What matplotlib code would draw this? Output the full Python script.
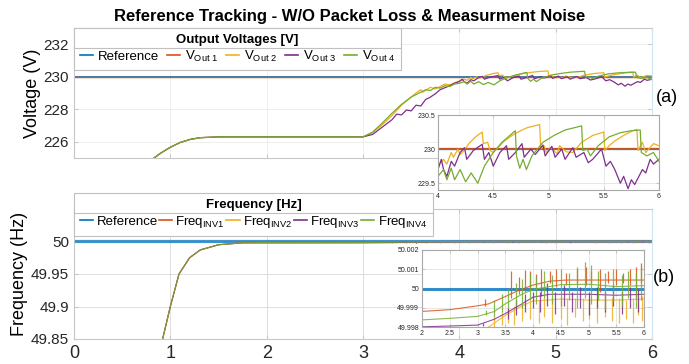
import numpy as np
import matplotlib
matplotlib.use('Agg')
import matplotlib.pyplot as plt
from matplotlib.lines import Line2D

plt.rcParams['font.family'] = ['Liberation Sans', 'DejaVu Sans']
plt.rcParams['mathtext.fontset'] = 'custom'
plt.rcParams['mathtext.rm'] = 'Liberation Sans'
plt.rcParams['mathtext.it'] = 'Liberation Sans:italic'
plt.rcParams['axes.linewidth'] = 0.8

# MATLAB default colours
c_ref, c1, c2, c3, c4 = '#0072BD', '#D95319', '#EDB120', '#7E2F8E', '#77AC30'

# ---------------- voltage data (V) ----------------
t_v_ref = [0, 6]
v_ref = [230, 230]
t_v1 = [0, 6]
v_1 = [230, 230]

# start-up common to inverters 2-4 (curves overlap)
t_v_start = [0.70, 0.83, 0.90, 1.00, 1.10, 1.21, 1.31, 1.50, 2.00, 2.50]
v_start = [223.9, 225.0, 225.3, 225.66, 225.95, 226.15, 226.25, 226.3, 226.3, 226.3]

t_v2 = [3.0, 3.1, 3.2, 3.3, 3.4, 3.5, 3.55, 3.6, 3.62, 3.7, 3.75, 3.85, 3.9, 4.0,
        4.05, 4.08, 4.12, 4.14, 4.18, 4.2, 4.22, 4.28, 4.34, 4.40, 4.41, 4.45, 4.47,
        4.5, 4.6, 4.7, 4.8, 4.92, 4.93, 4.96, 4.98, 5.02, 5.08, 5.1, 5.16, 5.22,
        5.3, 5.4, 5.5, 5.51, 5.55, 5.6, 5.68, 5.75, 5.8, 5.81, 5.85, 5.88, 5.95, 6.0]
v_2 = [226.3, 226.55, 227.05, 227.6, 228.25, 228.75, 229.0, 229.2, 229.05, 229.35, 229.25,
       229.55, 229.5, 229.75,
       229.85, 229.78, 229.95, 229.88, 230.0, 229.92, 229.95, 230.08, 230.18, 230.25,
       230.08, 230.1, 229.98, 229.95, 230.12, 230.23, 230.31, 230.36, 230.0, 230.05,
       229.95, 230.02, 229.93, 230.05, 229.96, 229.95, 230.1, 230.2, 230.25, 229.98,
       230.05, 230.12, 230.2, 230.26, 230.29, 229.98, 230.1, 229.95, 230.08, 230.05]

t_v3 = [3.0, 3.1, 3.2, 3.3, 3.35, 3.4, 3.45, 3.5, 3.55, 3.6, 3.65, 3.7, 3.75, 3.8,
        3.9, 3.95, 4.0, 4.03, 4.05, 4.08, 4.12, 4.15, 4.20, 4.24, 4.26, 4.32, 4.40,
        4.42, 4.46, 4.50, 4.56, 4.62, 4.64, 4.70, 4.76, 4.78, 4.84, 4.88, 4.95, 4.97,
        5.03, 5.06, 5.12, 5.15, 5.22, 5.25, 5.32, 5.36, 5.40, 5.48, 5.52, 5.56, 5.60,
        5.65, 5.68, 5.72, 5.75, 5.78, 5.85, 5.88, 5.92, 5.95, 6.0]
v_3 = [226.3, 226.45, 226.9, 227.35, 227.7, 227.65, 227.95, 227.9, 228.25, 228.2,
       228.6, 228.75, 228.95, 229.2, 229.45, 229.6, 229.7, 229.85, 229.7, 229.6,
       229.82, 229.75, 229.95, 230.02, 229.85, 229.98, 230.07, 229.85, 229.95, 229.75,
       229.95, 230.05, 229.85, 229.95, 230.08, 229.88, 230.0, 229.92, 230.06, 229.9,
       230.04, 229.88, 230.0, 229.85, 230.02, 229.88, 229.95, 229.8, 229.85, 230.0,
       229.75, 229.82, 229.7, 229.5, 229.6, 229.42, 229.55, 229.48, 229.7, 229.65,
       229.85, 229.78, 229.85]

t_v4 = [3.0, 3.1, 3.2, 3.3, 3.4, 3.5, 3.6, 3.65, 3.7, 3.75, 3.8, 3.85, 3.9, 3.95,
        4.0, 4.05, 4.08, 4.12, 4.15, 4.2, 4.25, 4.3, 4.36, 4.42, 4.5, 4.58, 4.65,
        4.70, 4.71, 4.74, 4.77, 4.80, 4.85, 4.95, 5.05, 5.15, 5.30, 5.31, 5.35, 5.38,
        5.45, 5.55, 5.65, 5.75, 5.83, 5.84, 5.89, 5.95, 6.0]
v_4 = [226.3, 226.6, 227.15, 227.75, 228.3, 228.75, 229.05, 229.2, 229.15, 229.35,
       229.3, 229.45, 229.4, 229.55, 229.6, 229.7, 229.55, 229.72, 229.55, 229.7,
       229.52, 229.65, 229.5, 229.75, 229.95, 230.1, 230.2, 230.27, 229.9, 229.72,
       229.85, 229.7, 229.9, 230.1, 230.2, 230.28, 230.34, 229.98, 230.0, 229.9,
       230.05, 230.18, 230.24, 230.27, 230.28, 229.95, 229.9, 229.95, 229.82]

# ---------------- frequency data ----------------
t_f_ref = [0, 6]
f_ref = [50, 50]

# start-up common to all inverters (Hz)
t_f_start = [0.85, 0.92, 1.00, 1.09, 1.20, 1.31, 1.50, 1.75]
f_start = [49.80, 49.85, 49.90, 49.95, 49.975, 49.987, 49.995, 49.998]

# deviation from 50 Hz in mHz, t >= 2 s
t_f1 = [2.0, 2.5, 3.0, 3.2, 3.5, 3.7, 4.0, 4.3, 4.6, 5.0, 5.5, 6.0]
d_f1 = [-1.19, -1.1, -0.9, -0.8, -0.42, -0.15, 0.18, 0.38, 0.44, 0.44, 0.44, 0.44]
t_f2 = [2.0, 3.0, 3.2, 3.5, 3.8, 4.0, 4.5, 5.0, 5.5, 6.0]
d_f2 = [-2.6, -2.3, -2.0, -1.4, -0.9, -0.65, -0.55, -0.6, -0.6, -0.55]
t_f3 = [2.0, 2.5, 3.0, 3.3, 3.5, 3.8, 4.0, 4.3, 5.0, 5.5, 6.0]
d_f3 = [-1.99, -1.95, -1.9, -1.6, -1.3, -0.8, -0.45, -0.3, -0.3, -0.35, -0.3]
t_f4 = [2.0, 2.5, 3.0, 3.3, 3.5, 3.8, 4.0, 4.3, 4.5, 5.0, 5.5, 6.0]
d_f4 = [-1.63, -1.55, -1.45, -1.2, -0.8, -0.3, -0.05, 0.1, 0.2, 0.22, 0.1, 0.15]

# switching spikes: time, low, high (mHz)
sp_f1 = [(3.13, -0.9, -0.55), (3.6, -0.5, 0.9), (3.75, -0.3, 0.6), (3.85, -0.2, 0.95),
         (3.95, 0.0, 0.9), (4.05, 0.1, 0.75), (4.15, -0.4, 1.0), (4.3, 0.3, 0.9),
         (4.42, 0.1, 1.0), (4.6, 0.2, 0.8), (4.8, 0.3, 1.0), (4.95, 0.2, 1.1),
         (5.05, 0.3, 0.9), (5.2, -0.2, 1.0), (5.35, 0.3, 0.9), (5.5, 0.2, 1.0),
         (5.62, 0.3, 0.8), (5.75, 0.2, 1.0), (5.85, -0.5, 1.1), (5.95, 0.3, 1.3)]
sp_f2 = [(3.3, -2.0, -1.5), (3.45, -1.9, -1.2), (3.55, -1.8, -1.0), (3.65, -1.9, -0.9),
         (3.8, -1.7, -0.8), (3.95, -1.6, -0.6), (4.1, -1.8, -0.6), (4.2, -1.5, -0.5),
         (4.35, -1.8, -0.5), (4.5, -1.6, -0.5), (4.62, -1.9, -0.5), (4.75, -1.5, -0.5),
         (4.9, -1.7, -0.5), (5.0, -1.6, -0.6), (5.15, -1.8, -0.5), (5.3, -1.5, -0.6),
         (5.42, -1.7, -0.5), (5.55, -1.8, -0.5), (5.68, -1.6, -0.6), (5.8, -1.8, -0.5),
         (5.9, -1.4, -0.5), (5.97, -1.7, -0.4)]
sp_f3 = [(3.1, -1.95, -1.8), (3.55, -1.6, -1.0), (3.7, -1.4, -0.6), (3.85, -1.2, -0.3),
         (4.0, -1.0, -0.2), (4.12, -1.2, -0.2), (4.25, -0.9, 0.3), (4.4, -1.3, -0.2),
         (4.55, -0.9, 0.2), (4.7, -1.2, -0.2), (4.85, -1.0, 0.1), (5.0, -1.4, -0.2),
         (5.15, -1.0, 0.1), (5.3, -1.2, -0.2), (5.45, -0.9, 0.2), (5.6, -1.3, -0.2),
         (5.75, -1.0, 0.1), (5.9, -1.2, 0.0)]
sp_f4 = [(3.15, -1.4, -1.1), (3.3, -1.5, -0.6), (3.45, -1.2, -0.3), (3.55, -1.0, 0.0),
         (3.7, -0.9, 0.3), (3.8, -1.0, 0.5), (3.95, -0.6, 0.8), (4.05, -0.8, 0.6),
         (4.2, -0.5, 0.9), (4.35, -0.8, 0.7), (4.5, -0.9, 1.0), (4.65, -0.6, 0.8),
         (4.8, -1.0, 1.1), (4.93, -0.5, 1.4), (5.05, -0.8, 1.2), (5.18, -0.6, 0.9),
         (5.3, -1.1, 0.8), (5.45, -0.7, 1.0), (5.6, -0.9, 0.7), (5.72, -0.5, 0.9),
         (5.85, -1.0, 0.8), (5.95, -0.6, 1.1)]

W, H = 689, 364
fig = plt.figure(figsize=(W / 100, H / 100), dpi=100)


def box(x0, y0, x1, y1):
    return [x0 / W, 1 - y1 / H, (x1 - x0) / W, (y1 - y0) / H]


def style(ax, fs, grid_c):
    for s in ['left', 'bottom', 'top']:
        ax.spines[s].set_color('#c8c8c8')
    ax.spines['right'].set_color('#cfe6f5')
    ax.tick_params(direction='in', length=3, color='#c8c8c8', labelsize=fs,
                   labelcolor='#262626', top=True, right=True)
    ax.grid(True, color=grid_c, lw=0.6)
    ax.set_axisbelow(True)


ax_v = fig.add_axes(box(74, 28, 652, 158))
ax_f = fig.add_axes(box(74, 209, 652, 339))
style(ax_v, 11, '#ebebeb')
style(ax_f, 11, '#d9d9d9')

v_series = [(t_v2, v_2, c2), (t_v3, v_3, c3), (t_v4, v_4, c4)]
f_series = [(t_f1, d_f1, sp_f1, c1), (t_f2, d_f2, sp_f2, c2),
            (t_f3, d_f3, sp_f3, c3), (t_f4, d_f4, sp_f4, c4)]

# ---- voltage main ----
ax_v.plot(t_v_ref, v_ref, color=c_ref, lw=1.2)
ax_v.plot(t_v1, v_1, color=c1, lw=1.0)
for tt, vv, c in v_series:
    ax_v.plot(t_v_start + tt, v_start + vv, color=c, lw=0.9)
ax_v.set_xlim(0, 6)
ax_v.set_ylim(225, 233)
ax_v.set_yticks([226, 228, 230, 232])
ax_v.set_xticks(range(7))
ax_v.tick_params(labelbottom=False)
ax_v.set_ylabel('Voltage (V)', fontsize=13, labelpad=2)

# ---- frequency main ----
ax_f.plot(t_f_ref, f_ref, color=c_ref, lw=2.3, alpha=0.75)
for tt, dd, sp, c in f_series:
    ff = [50 + d / 1000 for d in dd]
    ax_f.plot(t_f_start + tt, f_start + ff, color=c, lw=0.8, alpha=0.85)
    ax_f.vlines([s[0] for s in sp], [50 + s[1] / 1000 for s in sp],
                [50 + s[2] / 1000 for s in sp], color=c, lw=0.8)
ax_f.set_xlim(0, 6)
ax_f.set_ylim(49.85, 50.05)
ax_f.set_yticks([49.85, 49.9, 49.95, 50])
ax_f.set_yticklabels(['49.85', '49.9', '49.95', '50'])
ax_f.set_xticks(range(7))
ax_f.tick_params(axis='x', labelsize=13, pad=4)
ax_f.set_ylabel('Frequency (Hz)', fontsize=13, labelpad=2)


# ---- legends ----
def matlab_legend(ax, labels, colors, title, y_anchor, colsp, textpad):
    hs = [Line2D([], [], color=c, lw=1.2) for c in colors]
    leg = ax.legend(hs, labels, loc='upper left', bbox_to_anchor=(0, y_anchor),
                    borderaxespad=0, ncol=len(labels), fontsize=9.5,
                    title=title, title_fontproperties={'weight': 'bold', 'size': 9.5},
                    handlelength=1.0, handletextpad=textpad, columnspacing=colsp,
                    frameon=True, fancybox=False, framealpha=1,
                    edgecolor='#c0c0c0', borderpad=0.45, labelspacing=0.2)
    leg.get_frame().set_linewidth(0.8)
    return leg


colors5 = [c_ref, c1, c2, c3, c4]
leg_v = matlab_legend(ax_v, ['Reference', r'V$_{\mathrm{Out\ 1}}$', r'V$_{\mathrm{Out\ 2}}$',
                             r'V$_{\mathrm{Out\ 3}}$', r'V$_{\mathrm{Out\ 4}}$'],
                      colors5, 'Output Voltages [V]', 1.0, 0.6, 0.35)
leg_f = matlab_legend(ax_f, ['Reference', r'Freq$_{\mathrm{INV1}}$', r'Freq$_{\mathrm{INV2}}$',
                             r'Freq$_{\mathrm{INV3}}$', r'Freq$_{\mathrm{INV4}}$'],
                      colors5, 'Frequency [Hz]', 1 + 16 / 130, 0.1, 0.25)

# ---- voltage inset ----
ax_vi = fig.add_axes(box(438, 115, 659, 190))
ax_vi.plot(t_v_ref, v_ref, color=c_ref, lw=1.6)
ax_vi.plot(t_v1, v_1, color=c1, lw=1.3)
for tt, vv, c in v_series:
    ax_vi.plot(tt, vv, color=c, lw=0.9)
ax_vi.set_xlim(4, 6)
ax_vi.set_ylim(229.4, 230.5)
ax_vi.set_yticks([229.5, 230, 230.5])
ax_vi.set_yticklabels(['229.5', '230', '230.5'])
ax_vi.set_xticks([4, 4.5, 5, 5.5, 6])
ax_vi.set_xticklabels(['4', '4.5', '5', '5.5', '6'])
style(ax_vi, 5, '#e3e3e3')
for s in ax_vi.spines.values():
    s.set_color('#a8a8a8')
ax_vi.tick_params(pad=2, length=2)

# ---- frequency inset ----
ax_fi = fig.add_axes(box(422, 250, 644, 327))
ax_fi.plot(t_f_ref, [0, 0], color=c_ref, lw=2.2, alpha=0.8)
for tt, dd, sp, c in f_series:
    ax_fi.plot(tt, dd, color=c, lw=0.8, alpha=0.85)
    ax_fi.vlines([s[0] for s in sp], [s[1] for s in sp], [s[2] for s in sp],
                 color=c, lw=0.9, alpha=0.85)
ax_fi.set_xlim(2, 6)
ax_fi.set_ylim(-2, 2)
ax_fi.set_yticks([-2, -1, 0, 1, 2])
ax_fi.set_yticklabels(['49.998', '49.999', '50', '50.001', '50.002'])
ax_fi.set_xticks([2, 2.5, 3, 3.5, 4, 4.5, 5, 5.5, 6])
ax_fi.set_xticklabels(['2', '2.5', '3', '3.5', '4', '4.5', '5', '5.5', '6'])
style(ax_fi, 5, '#e3e3e3')
for s in ax_fi.spines.values():
    s.set_color('#a8a8a8')
ax_fi.tick_params(pad=2, length=2)

# ---- texts ----
fig.text(350 / W, 1 - 17 / H, 'Reference Tracking - W/O Packet Loss & Measurment Noise',
         ha='center', va='center', fontsize=12, fontweight='bold')
fig.text(667 / W, 1 - 97 / H, '(a)', ha='center', va='center', fontsize=13)
fig.text(664 / W, 1 - 277 / H, '(b)', ha='center', va='center', fontsize=13)

# legend title separators
fig.canvas.draw()
r = fig.canvas.get_renderer()
inv = fig.transFigure.inverted()
for leg in (leg_v, leg_f):
    bb = leg.get_frame().get_window_extent(r)
    tb = leg.get_title().get_window_extent(r)
    y = tb.y0 - 2
    (x0, yy), (x1, _) = inv.transform([(bb.x0, y), (bb.x1, y)])
    fig.add_artist(Line2D([x0, x1], [yy, yy], transform=fig.transFigure,
                          color='#c0c0c0', lw=0.8, zorder=10))

fig.savefig('out.png', dpi=100)
